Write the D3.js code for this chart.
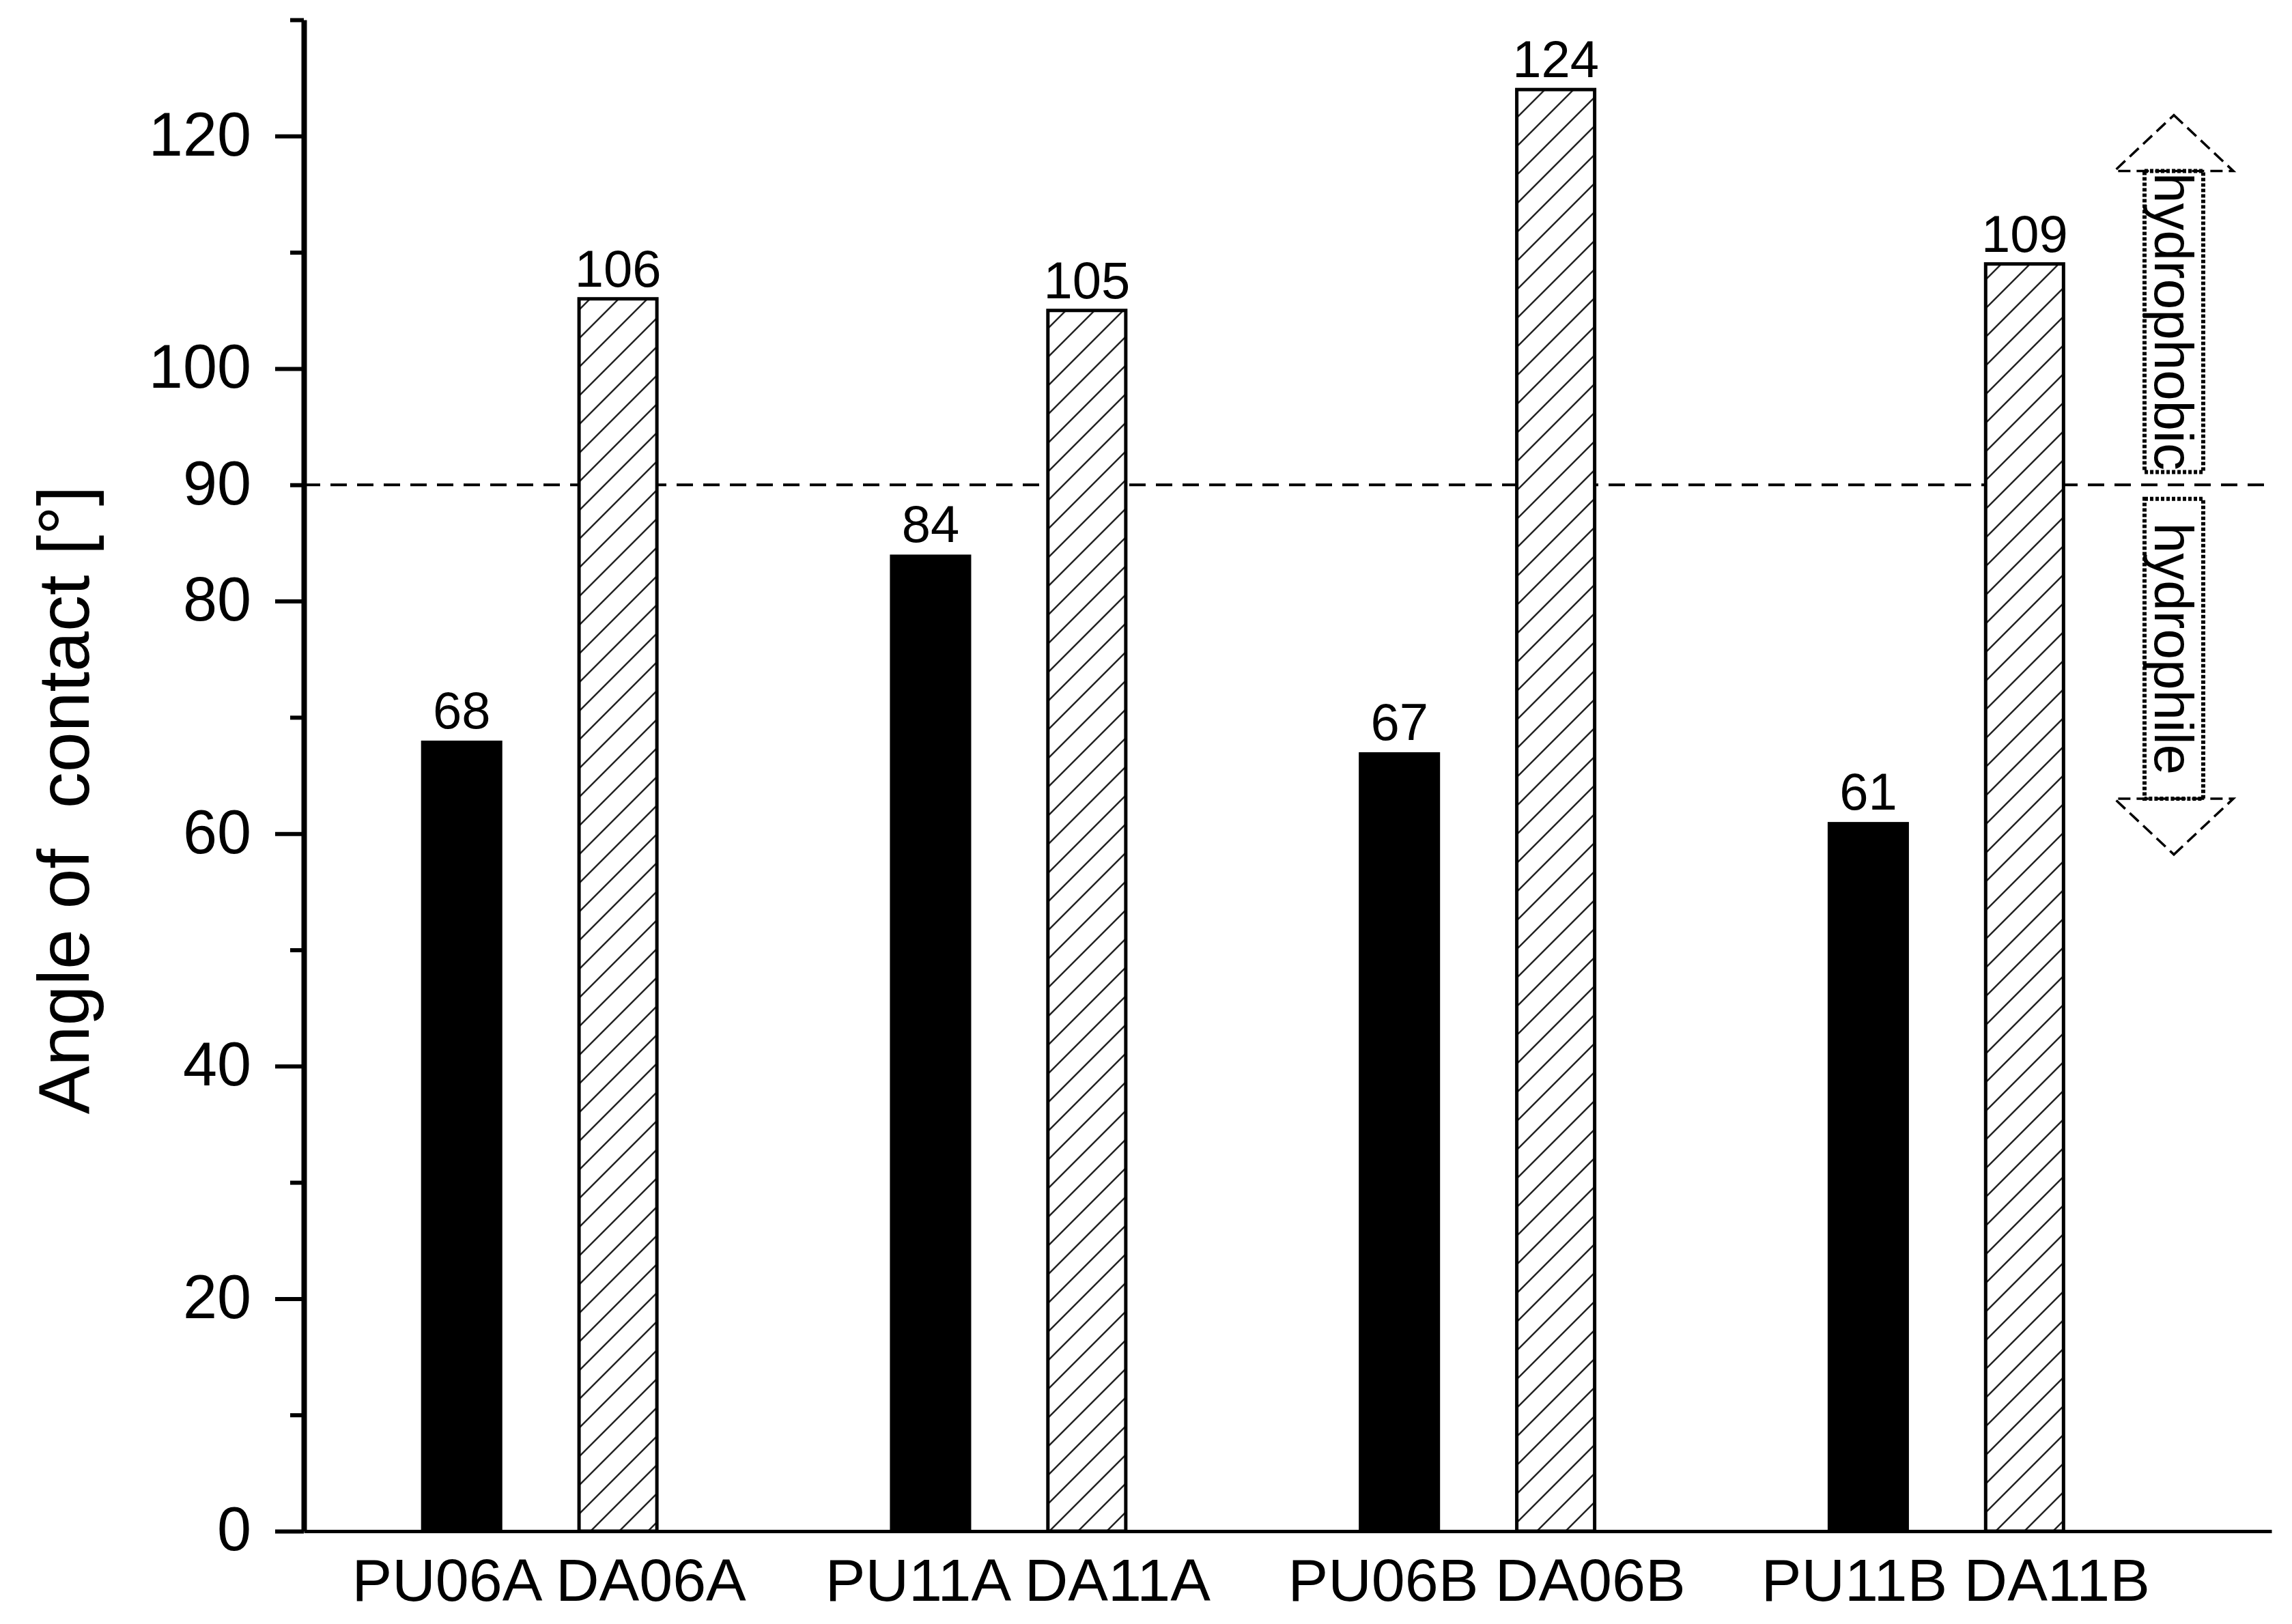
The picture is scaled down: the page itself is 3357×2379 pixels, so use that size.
<!DOCTYPE html>
<html>
<head>
<meta charset="utf-8">
<script src="https://cdn.jsdelivr.net/npm/d3@7"></script>
<style>
  html, body { margin: 0; padding: 0; background: #fff; }
  svg { display: block; font-family: "Liberation Sans", Arial, sans-serif; }
</style>
</head>
<body>
<svg id="chart" width="3357" height="2379"></svg>
<script>
// data
const puNames = ["PU06A", "PU11A", "PU06B", "PU11B"];
const puAngles = [68, 84, 67, 61];
const daNames = ["DA06A", "DA11A", "DA06B", "DA11B"];
const daAngles = [106, 105, 124, 109];
const yTicks = [0, 10, 20, 30, 40, 50, 60, 70, 80, 90, 100, 110, 120, 130];
const yTickLabels = [0, 20, 40, 60, 80, 90, 100, 120];
const threshold = 90;

const W = 3357, H = 2379;
const svg = d3.select("#chart");
svg.append("rect").attr("width", W).attr("height", H).attr("fill", "#fff");

// bars: PU at slot 3i, DA at slot 3i+1
const bars = [];
puNames.forEach((n, i) => {
    bars.push({ name: n, value: puAngles[i], slot: 3 * i, kind: "pu" });
    bars.push({ name: daNames[i], value: daAngles[i], slot: 3 * i + 1, kind: "da" });
});
const groups = puNames.map((n, i) => ({ slot: 3 * i + 0.5, label: `${n} ${daNames[i]}` }));

const x = d3.scaleLinear().domain([-1.01, 11.58]).range([445, 3327]);
const y = d3.scaleLinear().domain([0, 130]).range([2243, 29]);
const barW = 0.52 * (x(1) - x(0));

// hatch pattern
const defs = svg.append("defs");
const pat = defs.append("pattern")
    .attr("id", "hatch")
    .attr("patternUnits", "userSpaceOnUse")
    .attr("width", 42).attr("height", 42);
pat.append("rect").attr("width", 42).attr("height", 42).attr("fill", "#fff");
pat.append("path")
    .attr("d", "M0,42 L42,0 M-10,10 L10,-10 M32,52 L52,32")
    .attr("stroke", "#222").attr("stroke-width", 2.5);

// threshold line
svg.append("line")
    .attr("x1", x.range()[0]).attr("x2", x.range()[1])
    .attr("y1", y(threshold)).attr("y2", y(threshold))
    .attr("stroke", "#000").attr("stroke-width", 4)
    .attr("stroke-dasharray", "24,15");

// bars
const g = svg.append("g");
g.selectAll("rect.bar")
    .data(bars)
    .enter()
    .append("rect")
    .attr("class", "bar")
    .attr("x", (d) => x(d.slot) - barW / 2 + (d.kind === "da" ? 2.5 : 0))
    .attr("width", (d) => barW - (d.kind === "da" ? 5 : 0))
    .attr("y", (d) => y(d.value))
    .attr("height", (d) => y(0) - y(d.value))
    .attr("fill", (d) => d.kind === "pu" ? "#000" : "url(#hatch)")
    .attr("stroke", (d) => d.kind === "pu" ? "none" : "#000")
    .attr("stroke-width", 5);

// value labels
g.selectAll("text.val")
    .data(bars)
    .enter()
    .append("text")
    .attr("class", "val")
    .attr("x", (d) => x(d.slot))
    .attr("y", (d) => y(d.value) - 18)
    .attr("text-anchor", "middle")
    .attr("font-size", 76)
    .text((d) => d.value);

// x axis, one label per pair
const xAxis = svg.append("g")
    .attr("transform", `translate(0,${y(0)})`)
    .call(d3.axisBottom(x)
        .tickValues(groups.map((d) => d.slot))
        .tickFormat((s) => groups.find((d) => d.slot === s).label)
        .tickSize(0)
        .tickSizeOuter(0));
xAxis.select(".domain").attr("stroke", "#000").attr("stroke-width", 5);
xAxis.selectAll(".tick text")
    .attr("y", 102).attr("dy", 0)
    .attr("dx", 13)
    .attr("font-size", 88)
    .attr("font-family", "Liberation Sans, Arial, sans-serif")
    .attr("fill", "#000")
    .style("white-space", "pre");

// y axis
const yAxis = svg.append("g")
    .attr("transform", `translate(${x.range()[0]},0)`)
    .call(d3.axisLeft(y)
        .tickValues(yTicks)
        .tickFormat((v) => yTickLabels.includes(v) ? v : "")
        .tickSizeOuter(0));
yAxis.select(".domain").attr("stroke", "#000").attr("stroke-width", 8);
yAxis.selectAll(".tick line")
    .attr("x2", (v) => (v % 20 === 0 && v <= 120) ? -42 : -20)
    .attr("stroke", "#000")
    .attr("stroke-width", 6);
yAxis.selectAll(".tick text")
    .attr("x", -77)
    .attr("dy", "0.31em")
    .attr("font-size", 90)
    .attr("font-family", "Liberation Sans, Arial, sans-serif")
    .attr("fill", "#000");

// y title
svg.append("text")
    .attr("transform", `translate(130,${(y(0) + y(130)) / 2 + 36}) rotate(-90)`)
    .attr("text-anchor", "middle")
    .attr("font-size", 106)
    .style("white-space", "pre")
    .text("Angle of  contact [°]");

// hydrophobic / hydrophile arrows
const ax = 3184, shaftHalf = 43, headHalf = 87;
const arrows = [
    { label: "hydrophobic", tip: 121.8, base: 117, end: 91.1 },
    { label: "hydrophile", tip: 58.2, base: 63, end: 88.8 },
];
const ann = svg.append("g");
arrows.forEach((a) => {
    const yt = y(a.tip), yb = y(a.base), ye = y(a.end);
    ann.append("path")
        .attr("d", `M${ax},${yt} L${ax + headHalf},${yb} L${ax - headHalf},${yb} Z`)
        .attr("fill", "none")
        .attr("stroke", "#000").attr("stroke-width", 3.5)
        .attr("stroke-dasharray", "18,9");
    ann.append("rect")
        .attr("x", ax - shaftHalf).attr("width", shaftHalf * 2)
        .attr("y", Math.min(yb, ye)).attr("height", Math.abs(ye - yb))
        .attr("fill", "none")
        .attr("stroke", "#000").attr("stroke-width", 6)
        .attr("stroke-dasharray", "5,3");
    ann.append("text")
        .attr("transform", `translate(${ax},${(yb + ye) / 2}) rotate(90)`)
        .attr("text-anchor", "middle")
        .attr("dy", "0.35em")
        .attr("font-size", 80)
        .text(a.label);
});
</script>
</body>
</html>
